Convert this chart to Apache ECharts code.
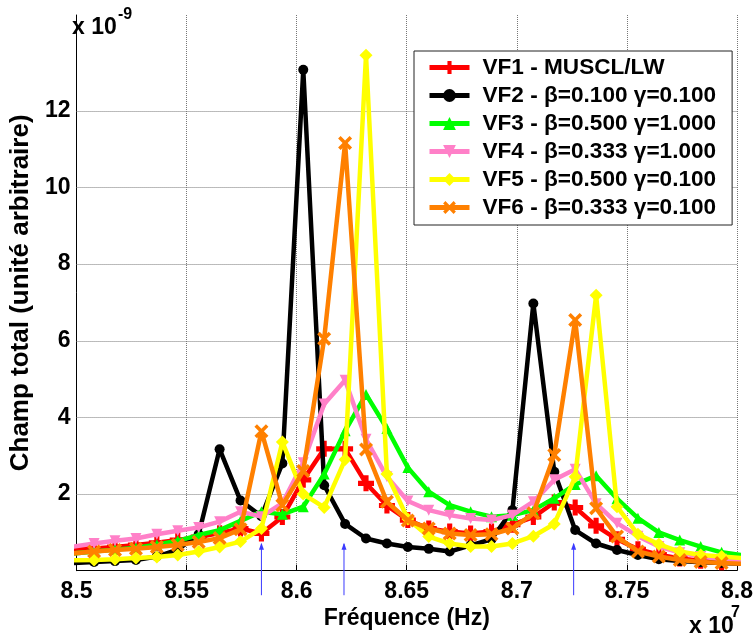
<!DOCTYPE html>
<html><head><meta charset="utf-8">
<script src="https://cdn.jsdelivr.net/npm/echarts@6/dist/echarts.min.js"></script>
<style>html,body{margin:0;padding:0;background:#fff}#c{width:756px;height:637px}</style>
</head><body><div id="c"></div>
<script>
// Frequencies (x 10^7 Hz)
const freqs = [8.4985, 8.508, 8.5175, 8.527, 8.5365, 8.546, 8.5555, 8.565, 8.5745, 8.584, 8.5935,
  8.603, 8.6125, 8.622, 8.6315, 8.641, 8.6505, 8.66, 8.6695, 8.679, 8.6885, 8.698,
  8.7075, 8.717, 8.7265, 8.736, 8.7455, 8.755, 8.7645, 8.774, 8.7835, 8.793, 8.8025];
// Champ total (x 10^-9)
const vf1 = [0.55, 0.58, 0.62, 0.67, 0.73, 0.8, 0.88, 0.98, 1.1, 0.97, 1.4, 2.37, 3.18, 3.18, 2.28, 1.7, 1.32, 1.1, 1.02, 0.97, 1.02, 1.2, 1.4, 1.78, 1.65, 1.17, 0.82, 0.56, 0.42, 0.32, 0.26, 0.22, 0.2];
const vf2 = [0.2, 0.23, 0.25, 0.28, 0.37, 0.55, 0.95, 3.17, 1.83, 1.42, 2.8, 13.07, 2.23, 1.22, 0.84, 0.71, 0.62, 0.57, 0.5, 0.66, 0.82, 1.58, 6.97, 2.58, 1.06, 0.71, 0.54, 0.41, 0.3, 0.25, 0.22, 0.2, 0.18];
const vf3 = [0.45, 0.5, 0.55, 0.6, 0.68, 0.78, 0.93, 1.06, 1.3, 1.54, 1.47, 1.67, 2.52, 3.65, 4.6, 3.71, 2.69, 2.06, 1.71, 1.54, 1.41, 1.45, 1.58, 1.89, 2.25, 2.48, 1.88, 1.37, 1.0, 0.8, 0.63, 0.48, 0.4];
const vf4 = [0.63, 0.71, 0.78, 0.84, 0.95, 1.04, 1.13, 1.28, 1.54, 1.41, 1.76, 2.82, 4.35, 4.97, 3.43, 2.45, 1.82, 1.58, 1.45, 1.36, 1.32, 1.45, 1.8, 2.37, 2.65, 1.75, 1.24, 0.9, 0.63, 0.47, 0.37, 0.3, 0.26];
const vf5 = [0.27, 0.28, 0.3, 0.33, 0.36, 0.41, 0.5, 0.62, 0.76, 1.1, 3.36, 2.0, 1.65, 2.9, 13.45, 2.52, 1.35, 0.89, 0.71, 0.63, 0.63, 0.71, 0.9, 1.22, 2.45, 7.19, 1.67, 0.95, 0.69, 0.5, 0.41, 0.37, 0.33];
const vf6 = [0.45, 0.5, 0.54, 0.57, 0.62, 0.67, 0.75, 0.85, 1.08, 3.64, 1.71, 2.6, 6.05, 11.16, 3.16, 1.8, 1.31, 1.1, 0.97, 0.93, 0.95, 1.1, 1.5, 3.02, 6.54, 1.63, 0.89, 0.5, 0.37, 0.28, 0.23, 0.2, 0.18];
const seriesNames = ['VF1 - MUSCL/LW', 'VF2 - β=0.100 γ=0.100', 'VF3 - β=0.500 γ=1.000',
  'VF4 - β=0.333 γ=1.000', 'VF5 - β=0.500 γ=0.100', 'VF6 - β=0.333 γ=0.100'];
const yTickValues = [2, 4, 6, 8, 10, 12];
const arrowFreqs = [8.584, 8.6215, 8.7258];
const arrowSpan = [0.7, -0.64];

const FONT = '"Liberation Sans", Arial, sans-serif';
const plusPath = 'path://M3.4,0H6.6V3.4H10V6.6H6.6V10H3.4V6.6H0V3.4H3.4Z';
const crossPath = 'path://M0,1.8L1.8,0L5,3.2L8.2,0L10,1.8L6.8,5L10,8.2L8.2,10L5,6.8L1.8,10L0,8.2L3.2,5Z';
const styles = [
  {color: '#ff0000', symbol: plusPath, size: 16},
  {color: '#000000', symbol: 'circle', size: 10},
  {color: '#00ff00', symbol: 'triangle', size: 11},
  {color: '#ff80c8', symbol: 'triangle', size: 11, rotate: 180},
  {color: '#ffff00', symbol: 'diamond', size: 13},
  {color: '#ff8000', symbol: crossPath, size: 14}
];
const allValues = [vf1, vf2, vf3, vf4, vf5, vf6];

const series = allValues.map((vals, k) => {
  const s = styles[k];
  return {
    type: 'line', name: seriesNames[k], z: 3 + k,
    data: freqs.map((f, i) => [f, vals[i]]),
    clip: true, showSymbol: true,
    symbol: s.symbol, symbolSize: s.size, symbolRotate: s.rotate || 0,
    lineStyle: {color: s.color, width: 4.5},
    itemStyle: {color: s.color},
    emphasis: {disabled: true}
  };
});
// horizontal dotted grid lines
series[0].markLine = {
  silent: true, symbol: 'none', z: 1, animation: false,
  label: {show: false},
  lineStyle: {type: 'dotted', color: '#777', width: 1},
  data: yTickValues.map(v => ({yAxis: v}))
};
// small blue arrows on the frequency axis
series.push({
  type: 'custom', name: 'arrows', silent: true, clip: false, z: 20,
  data: arrowFreqs.map(f => [f, arrowSpan[0], arrowSpan[1]]),
  encode: {x: 0, y: 1},
  renderItem: (params, api) => {
    const f = api.value(0);
    const top = api.coord([f, api.value(1)]);
    const bot = api.coord([f, api.value(2)]);
    return {type: 'group', children: [
      {type: 'line', shape: {x1: top[0], y1: top[1], x2: bot[0], y2: bot[1]}, style: {stroke: '#3a3aff', lineWidth: 1}},
      {type: 'polygon', shape: {points: [[top[0], top[1] - 1], [top[0] - 2.5, top[1] + 6], [top[0] + 2.5, top[1] + 6]]}, style: {fill: '#3a3aff'}}
    ]};
  }
});

const boldTxt = (size) => ({fontFamily: FONT, fontWeight: 'bold', fontSize: size, color: '#000'});

const chart = echarts.init(document.getElementById('c'), null, {renderer: 'canvas'});
chart.setOption({
  animation: false,
  backgroundColor: '#fff',
  grid: {left: 72, right: 14, top: 15, bottom: 66.3, containLabel: false},
  xAxis: {
    type: 'value', min: 8.5, max: 8.8, interval: 0.05,
    axisLine: {show: true, onZero: false, lineStyle: {color: '#000', width: 1}},
    axisTick: {show: true, inside: true, length: 6, lineStyle: {color: '#000'}},
    axisLabel: Object.assign({margin: 9, formatter: v => String(parseFloat(v.toFixed(3)))}, boldTxt(23)),
    splitLine: {show: true, lineStyle: {type: 'dotted', color: '#777', width: 1}},
    name: 'Fréquence (Hz)', nameLocation: 'middle', nameGap: 17,
    nameTextStyle: boldTxt(23)
  },
  yAxis: {
    type: 'value', min: 0, max: 14.5, interval: 2,
    axisLine: {show: true, onZero: false, lineStyle: {color: '#000', width: 1}},
    axisTick: {show: false},
    axisLabel: Object.assign({margin: 6, formatter: v => (yTickValues.indexOf(v) >= 0 ? String(v) : '')}, boldTxt(23)),
    splitLine: {show: false},
    name: 'Champ total (unité arbitraire)', nameLocation: 'middle', nameGap: 34,
    nameTextStyle: boldTxt(26)
  },
  legend: {
    orient: 'vertical', left: 414, top: 51,
    backgroundColor: '#fff', borderColor: '#222', borderWidth: 1, borderRadius: 0,
    padding: [5, 16, 6, 13],
    itemWidth: 40, itemHeight: 16, itemGap: 5,
    selectedMode: false,
    lineStyle: {width: 5},
    data: seriesNames,
    textStyle: Object.assign({padding: [0, 0, 0, 8], lineHeight: 22}, boldTxt(22.6))
  },
  graphic: [
    {type: 'text', left: 72, top: 16.5, style: {text: 'x 10', font: 'bold 23px "Liberation Sans"', fill: '#000'}},
    {type: 'text', left: 118, top: 6.5, style: {text: '-9', font: 'bold 16px "Liberation Sans"', fill: '#000'}},
    {type: 'text', left: 689, top: 615.5, style: {text: 'x 10', font: 'bold 23px "Liberation Sans"', fill: '#000'}},
    {type: 'text', left: 731, top: 604.5, style: {text: '7', font: 'bold 16px "Liberation Sans"', fill: '#000'}}
  ],
  series: series
});
</script>
</body></html>
